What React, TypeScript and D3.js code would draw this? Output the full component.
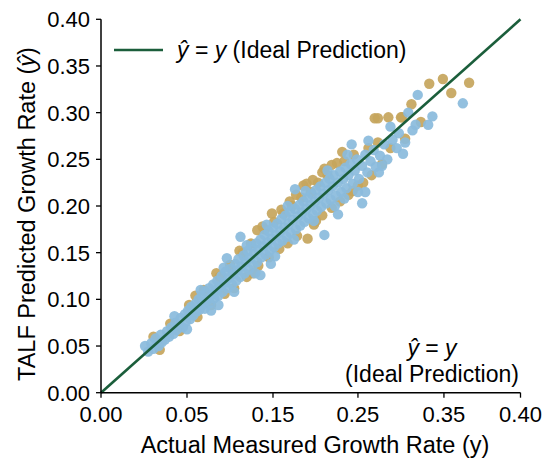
import * as d3 from 'd3';

const WIDTH = 550;
const HEIGHT = 467;
const PLOT = { left: 101, right: 520.5, top: 19.3, bottom: 392.7 };
const FONT = '"Liberation Sans", Arial, sans-serif';

const BLUE = '#8abbdc';
const GOLD = '#c6a55c';
const LINE_GREEN = '#1b5e3b';

// y ticks are regular, x ticks carry the odd labels of the original figure
const yTicks = [0, 0.05, 0.1, 0.15, 0.2, 0.25, 0.3, 0.35, 0.4];
const xTickPos = [0, 0.082, 0.164, 0.245, 0.327, 0.4];
const xTickLabels = ['0.00', '0.05', '0.15', '0.25', '0.35', '0.40'];

// [actual, predicted]
const goldPoints: [number, number][] = [
  [0.05, 0.06], [0.056, 0.046], [0.066, 0.074], [0.075, 0.066], [0.084, 0.094],
  [0.092, 0.081], [0.098, 0.11], [0.105, 0.094], [0.113, 0.124], [0.118, 0.106],
  [0.123, 0.137], [0.127, 0.112], [0.135, 0.15], [0.139, 0.124], [0.143, 0.16],
  [0.145, 0.128], [0.149, 0.174], [0.15, 0.136], [0.156, 0.175], [0.16, 0.145],
  [0.163, 0.192], [0.165, 0.183], [0.17, 0.154], [0.174, 0.192], [0.178, 0.16],
  [0.18, 0.205], [0.182, 0.2], [0.187, 0.168], [0.191, 0.209], [0.193, 0.222],
  [0.196, 0.224], [0.197, 0.165], [0.2, 0.215], [0.203, 0.18], [0.207, 0.225],
  [0.211, 0.236], [0.211, 0.19], [0.213, 0.24], [0.216, 0.233], [0.22, 0.198],
  [0.225, 0.246], [0.228, 0.205], [0.23, 0.258], [0.232, 0.248], [0.236, 0.212],
  [0.241, 0.255], [0.245, 0.222], [0.25, 0.225], [0.255, 0.262], [0.258, 0.233],
  [0.261, 0.294], [0.264, 0.268], [0.268, 0.245], [0.274, 0.295], [0.276, 0.262],
  [0.286, 0.295], [0.29, 0.272], [0.296, 0.309], [0.305, 0.29], [0.313, 0.331],
  [0.326, 0.336], [0.334, 0.321], [0.351, 0.332], [0.287, 0.295], [0.264, 0.294],
  [0.172, 0.196], [0.186, 0.212], [0.202, 0.228], [0.22, 0.244], [0.154, 0.178],
  [0.132, 0.152], [0.11, 0.128], [0.09, 0.104], [0.24, 0.216], [0.205, 0.184],
];

const bluePoints: [number, number][] = [
  [0.042, 0.05], [0.045, 0.044], [0.048, 0.053], [0.05, 0.047], [0.052, 0.058],
  [0.055, 0.05], [0.057, 0.062], [0.058, 0.054], [0.061, 0.057], [0.063, 0.066],
  [0.065, 0.06], [0.067, 0.07], [0.069, 0.063], [0.071, 0.075], [0.072, 0.067],
  [0.074, 0.072], [0.076, 0.08], [0.078, 0.07], [0.08, 0.084], [0.081, 0.076],
  [0.083, 0.088], [0.085, 0.079], [0.086, 0.092], [0.088, 0.083], [0.09, 0.095],
  [0.091, 0.087], [0.093, 0.1], [0.094, 0.089], [0.096, 0.104], [0.097, 0.094],
  [0.099, 0.09], [0.1, 0.108], [0.101, 0.099], [0.103, 0.112], [0.104, 0.096],
  [0.106, 0.105], [0.107, 0.116], [0.108, 0.101], [0.11, 0.11], [0.111, 0.12],
  [0.112, 0.104], [0.114, 0.114], [0.115, 0.125], [0.116, 0.108], [0.118, 0.118],
  [0.119, 0.13], [0.12, 0.144], [0.121, 0.112], [0.122, 0.123], [0.124, 0.133],
  [0.125, 0.116], [0.126, 0.127], [0.128, 0.138], [0.129, 0.12], [0.13, 0.131],
  [0.131, 0.143], [0.133, 0.167], [0.133, 0.124], [0.134, 0.135], [0.136, 0.147],
  [0.137, 0.128], [0.138, 0.14], [0.14, 0.152], [0.141, 0.132], [0.142, 0.144],
  [0.144, 0.157], [0.145, 0.137], [0.146, 0.149], [0.148, 0.16], [0.149, 0.14],
  [0.15, 0.153], [0.152, 0.126], [0.152, 0.164], [0.153, 0.145], [0.155, 0.157],
  [0.156, 0.169], [0.157, 0.148], [0.159, 0.161], [0.16, 0.173], [0.161, 0.152],
  [0.163, 0.165], [0.164, 0.177], [0.165, 0.156], [0.167, 0.169], [0.168, 0.181],
  [0.169, 0.16], [0.171, 0.173], [0.172, 0.186], [0.173, 0.163], [0.175, 0.177],
  [0.176, 0.19], [0.177, 0.167], [0.179, 0.181], [0.18, 0.194], [0.181, 0.171],
  [0.183, 0.185], [0.185, 0.218], [0.185, 0.197], [0.186, 0.175], [0.188, 0.189],
  [0.189, 0.201], [0.19, 0.179], [0.192, 0.193], [0.193, 0.205], [0.194, 0.183],
  [0.196, 0.197], [0.197, 0.209], [0.198, 0.187], [0.2, 0.201], [0.201, 0.213],
  [0.202, 0.191], [0.204, 0.205], [0.205, 0.217], [0.206, 0.195], [0.208, 0.209],
  [0.209, 0.221], [0.21, 0.199], [0.212, 0.213], [0.213, 0.169], [0.214, 0.225],
  [0.215, 0.203], [0.217, 0.217], [0.218, 0.229], [0.219, 0.207], [0.221, 0.221],
  [0.222, 0.233], [0.224, 0.211], [0.226, 0.191], [0.226, 0.225], [0.228, 0.237],
  [0.229, 0.215], [0.231, 0.229], [0.233, 0.241], [0.234, 0.219], [0.236, 0.233],
  [0.238, 0.245], [0.239, 0.266], [0.24, 0.224], [0.242, 0.238], [0.244, 0.25],
  [0.246, 0.229], [0.249, 0.203], [0.249, 0.243], [0.252, 0.215], [0.252, 0.255],
  [0.254, 0.236], [0.257, 0.248], [0.26, 0.26], [0.262, 0.242], [0.265, 0.236],
  [0.266, 0.254], [0.27, 0.266], [0.273, 0.25], [0.278, 0.271], [0.282, 0.262],
  [0.284, 0.278], [0.288, 0.256], [0.293, 0.3], [0.297, 0.281], [0.3, 0.287],
  [0.302, 0.319], [0.312, 0.287], [0.316, 0.296], [0.345, 0.31],
  [0.07, 0.082], [0.082, 0.068], [0.095, 0.11], [0.105, 0.088], [0.117, 0.134],
  [0.127, 0.108], [0.139, 0.158], [0.147, 0.128], [0.158, 0.18], [0.166, 0.146],
  [0.178, 0.2], [0.184, 0.164], [0.195, 0.216], [0.203, 0.184], [0.216, 0.238],
  [0.223, 0.2], [0.235, 0.255], [0.245, 0.215], [0.255, 0.27], [0.268, 0.243],
  [0.276, 0.285], [0.29, 0.268], [0.232, 0.208], [0.162, 0.138], [0.112, 0.094],
];

const App = () => {
  const xScale = d3.scaleLinear().domain([0, 0.4]).range([PLOT.left, PLOT.right]);
  const yScale = d3.scaleLinear().domain([0, 0.4]).range([PLOT.bottom, PLOT.top]);
  const fmt = d3.format('.2f');
  const idealLine = d3.line<number>().x((d) => xScale(d)).y((d) => yScale(d))([0, 0.4]) ?? '';

  const dots = (pts: [number, number][], color: string, prefix: string) =>
    pts.map((p, i) => (
      <circle
        key={prefix + i}
        cx={xScale(p[0])}
        cy={yScale(p[1])}
        r={5.2}
        fill={color}
        fillOpacity={0.92}
      />
    ));

  return (
    <svg
      width={WIDTH}
      height={HEIGHT}
      style={{ position: 'absolute', left: 0, top: 0, background: '#fff' }}
      fontFamily={FONT}
    >
      {dots(goldPoints, GOLD, 'g')}
      {dots(bluePoints, BLUE, 'b')}

      <path d={idealLine} stroke={LINE_GREEN} strokeWidth={2.6} fill="none" />

      {/* axes */}
      <line x1={PLOT.left} x2={PLOT.left} y1={PLOT.top} y2={PLOT.bottom} stroke="#000" strokeWidth={1.5} />
      <line x1={PLOT.left} x2={PLOT.right} y1={PLOT.bottom} y2={PLOT.bottom} stroke="#000" strokeWidth={1.5} />

      {yTicks.map((t) => (
        <g key={'y' + t}>
          <line x1={PLOT.left - 5} x2={PLOT.left} y1={yScale(t)} y2={yScale(t)} stroke="#000" strokeWidth={1.3} />
          <text x={PLOT.left - 11} y={yScale(t)} dy="0.36em" textAnchor="end" fontSize={22} fill="#000">
            {fmt(t)}
          </text>
        </g>
      ))}

      {xTickPos.map((t, i) => (
        <g key={'x' + i}>
          <line x1={xScale(t)} x2={xScale(t)} y1={PLOT.bottom} y2={PLOT.bottom + 5} stroke="#000" strokeWidth={1.3} />
          <text x={xScale(t)} y={PLOT.bottom + 29} textAnchor="middle" fontSize={22} fill="#000">
            {xTickLabels[i]}
          </text>
        </g>
      ))}

      <text x={315} y={453} textAnchor="middle" fontSize={23.5} fill="#000">
        Actual Measured Growth Rate (y)
      </text>
      <text transform="translate(35,214) rotate(-90)" textAnchor="middle" fontSize={23.5} fill="#000">
        TALF Predicted Growth Rate (<tspan fontStyle="italic">ŷ</tspan>)
      </text>

      {/* legend */}
      <line x1={114} x2={163} y1={50} y2={50} stroke={LINE_GREEN} strokeWidth={2.6} />
      <text x={177} y={58} fontSize={23} fill="#000">
        <tspan fontStyle="italic">ŷ</tspan> = <tspan fontStyle="italic">y</tspan> (Ideal Prediction)
      </text>

      {/* annotation */}
      <text x={432} y={356} textAnchor="middle" fontSize={23} fill="#000">
        <tspan fontStyle="italic">ŷ</tspan> = <tspan fontStyle="italic">y</tspan>
      </text>
      <text x={432} y={382} textAnchor="middle" fontSize={23} fill="#000">
        (Ideal Prediction)
      </text>
    </svg>
  );
};

export default App;
